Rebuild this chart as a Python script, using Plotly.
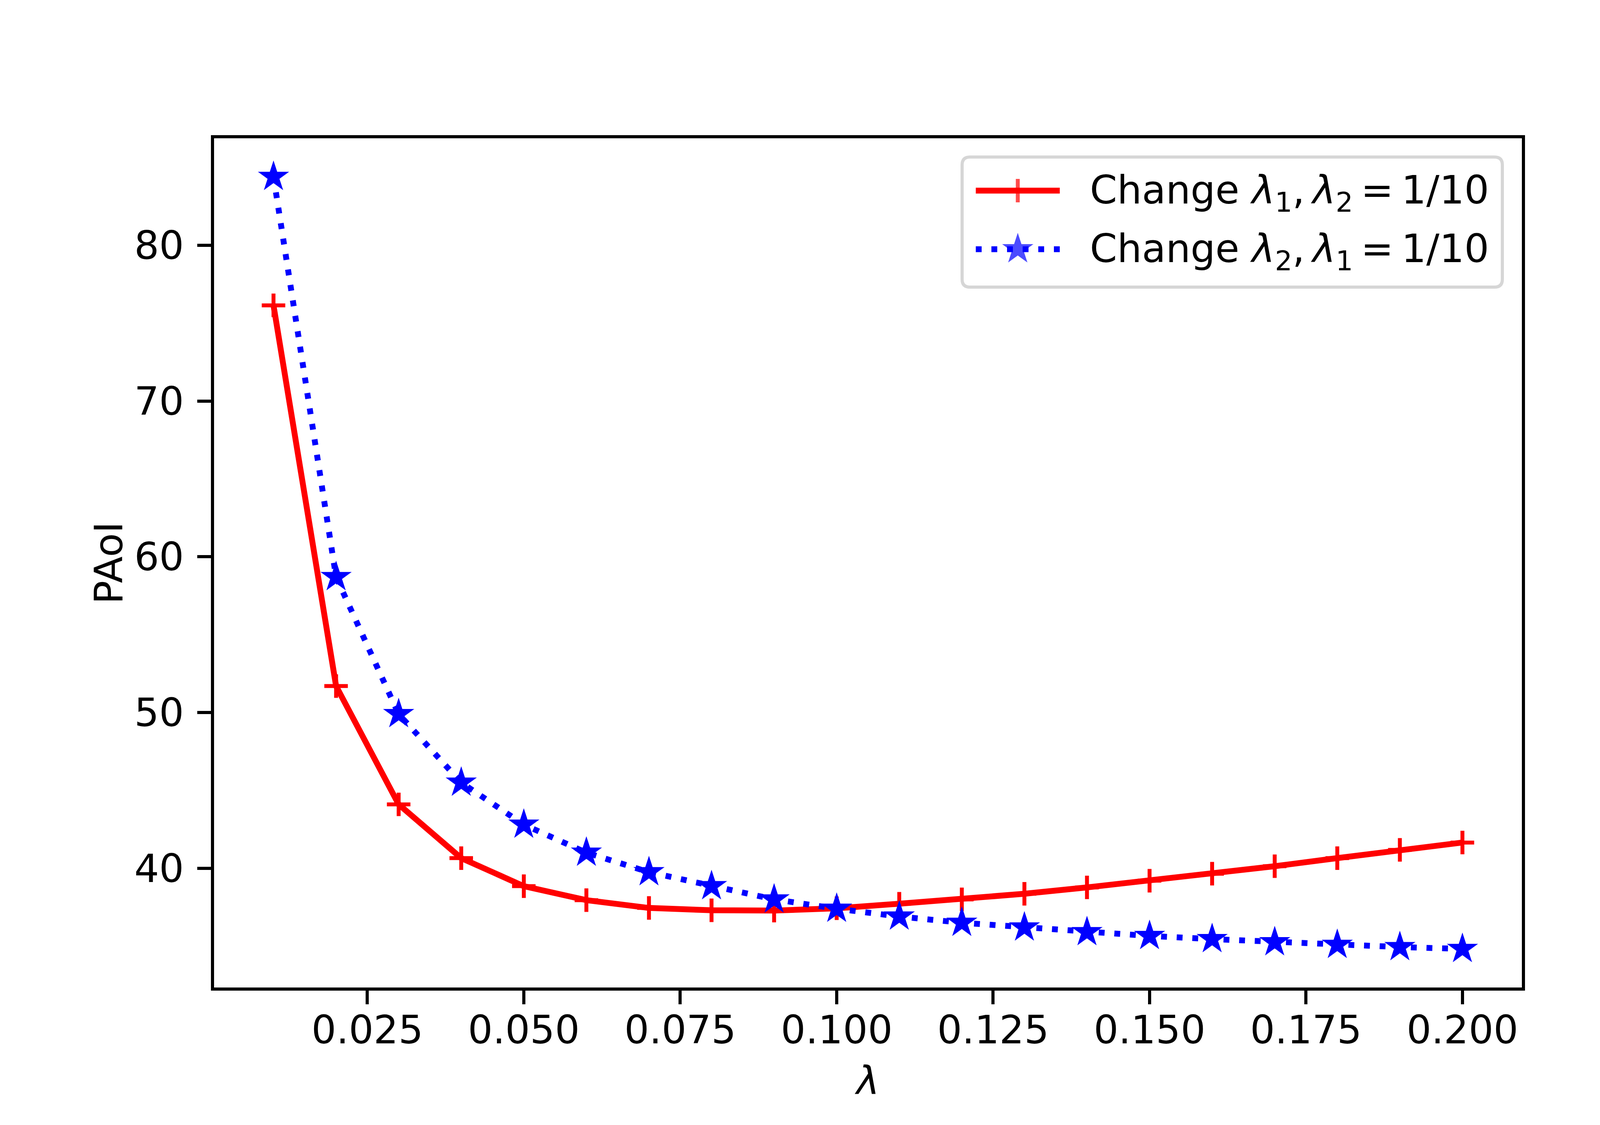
import plotly.graph_objects as go

# data
lam = [0.01, 0.02, 0.03, 0.04, 0.05, 0.06, 0.07, 0.08, 0.09, 0.10,
       0.11, 0.12, 0.13, 0.14, 0.15, 0.16, 0.17, 0.18, 0.19, 0.20]
paoi_change_l1 = [76.15, 51.7, 44.1, 40.65, 38.85, 37.95, 37.45, 37.3, 37.28, 37.43,
                  37.72, 38.0, 38.36, 38.77, 39.2, 39.65, 40.13, 40.65, 41.18, 41.65]
paoi_change_l2 = [84.4, 58.7, 49.9, 45.5, 42.8, 41.0, 39.75, 38.85, 38.0, 37.4,
                  36.9, 36.5, 36.2, 35.9, 35.65, 35.45, 35.25, 35.08, 34.94, 34.82]
x_ticks = [0.025, 0.050, 0.075, 0.100, 0.125, 0.150, 0.175, 0.200]
y_ticks = [40, 50, 60, 70, 80]
names = ["Change <i>λ</i><sub>1</sub>,\u2009<i>λ</i><sub>2</sub>\u2009=\u20091/10",
         "Change <i>λ</i><sub>2</sub>,\u2009<i>λ</i><sub>1</sub>\u2009=\u20091/10"]

W, H = 4320, 2880
L, R, T, B = 540, 3888, 346, 2520   # axes box in pixels
FONT = dict(family="DejaVu Sans", size=100, color="black")
STAR = 60
CROSS = 43

# matplotlib-like 5% margins
xlo, xhi = min(lam), max(lam)
ylo = min(paoi_change_l1 + paoi_change_l2)
yhi = max(paoi_change_l1 + paoi_change_l2)
xpad, ypad = 0.05 * (xhi - xlo), 0.05 * (yhi - ylo)

fig = go.Figure()
fig.add_trace(go.Scatter(
    x=lam, y=paoi_change_l1, mode="lines+markers", showlegend=False,
    line=dict(color="red", width=15),
    marker=dict(symbol="cross-thin", size=CROSS, color="red",
                line=dict(color="red", width=10)),
))
fig.add_trace(go.Scatter(
    x=lam, y=paoi_change_l2, mode="lines+markers", showlegend=False,
    line=dict(color="blue", width=15, dash="15px,25px"),
    marker=dict(symbol="star", size=STAR, color="blue", line=dict(width=0)),
))

# hand-drawn legend on a hidden overlay axis measured in pixels
box = (2455, 394, 3838, 727)
rows = [480, 630]
handle = (2490, 2705)
text_x = 2780
r = 20
x0, y0, x1, y1 = box
path = (f"M{x0 + r},{y0} H{x1 - r} Q{x1},{y0} {x1},{y0 + r} V{y1 - r} "
        f"Q{x1},{y1} {x1 - r},{y1} H{x0 + r} Q{x0},{y1} {x0},{y1 - r} "
        f"V{y0 + r} Q{x0},{y0} {x0 + r},{y0} Z")
fig.add_shape(type="path", path=path, xref="x2", yref="y2", layer="below",
              fillcolor="rgba(255,255,255,0.8)",
              line=dict(color="rgba(204,204,204,0.8)", width=8))

mid = (handle[0] + handle[1]) / 2
fig.add_trace(go.Scatter(
    x=[handle[0], mid, handle[1]], y=[rows[0]] * 3, xaxis="x2", yaxis="y2",
    mode="lines+markers", showlegend=False, hoverinfo="skip",
    line=dict(color="red", width=15),
    marker=dict(symbol="cross-thin", size=[0, CROSS, 0], color="red",
                line=dict(color="red", width=10)),
))
fig.add_trace(go.Scatter(
    x=[handle[0], mid, handle[1]], y=[rows[1]] * 3, xaxis="x2", yaxis="y2",
    mode="lines+markers", showlegend=False, hoverinfo="skip",
    line=dict(color="blue", width=15, dash="15px,25px"),
    marker=dict(symbol="star", size=[0, STAR, 0], color="blue", line=dict(width=0)),
))
for name, ry in zip(names, rows):
    fig.add_annotation(x=text_x, y=ry + 5, xref="x2", yref="y2", text=name,
                       showarrow=False, xanchor="left", yanchor="middle",
                       font=FONT)

fig.update_layout(
    width=W, height=H,
    margin=dict(l=L, r=W - R, t=T, b=H - B, autoexpand=False),
    paper_bgcolor="white", plot_bgcolor="white",
    font=FONT,
    showlegend=False,
    xaxis=dict(
        range=[xlo - xpad, xhi + xpad], tickvals=x_ticks, tickformat=".3f",
        showgrid=False, zeroline=False, showline=True, linecolor="black",
        linewidth=8, mirror=True, ticks="outside", ticklen=35, tickwidth=8,
        tickcolor="black", ticklabelstandoff=-20, tickfont=FONT,
        title=dict(text="<i>λ</i>", font=FONT, standoff=40),
    ),
    yaxis=dict(
        range=[ylo - ypad, yhi + ypad], tickvals=y_ticks,
        showgrid=False, zeroline=False, showline=True, linecolor="black",
        linewidth=8, mirror=True, ticks="outside", ticklen=35, tickwidth=8,
        tickcolor="black", ticklabelstandoff=14, tickfont=FONT,
        title=dict(text="PAoI", font=FONT, standoff=0),
    ),
    xaxis2=dict(overlaying="x", range=[L, R], visible=False, fixedrange=True),
    yaxis2=dict(overlaying="y", range=[B, T], visible=False, fixedrange=True),
)

fig.write_html("out.html")
